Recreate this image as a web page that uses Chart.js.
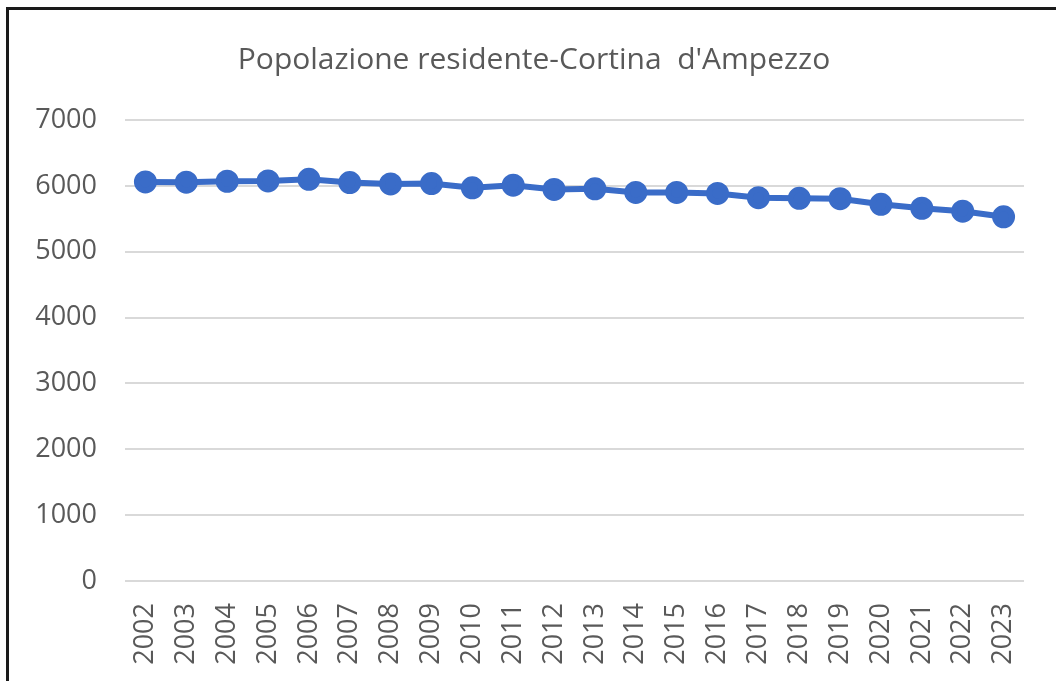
<!DOCTYPE html>
<html>
<head>
<meta charset="utf-8">
<script src="https://cdn.jsdelivr.net/npm/chart.js@4"></script>
<style>
  html, body { margin: 0; padding: 0; background: #fff; }
  #wrap { position: relative; width: 1056px; height: 681px; }
  #frame { position: absolute; left: 6px; top: 7px; right: 0; bottom: 0;
           border-left: 3px solid #1a1a1a; border-top: 3px solid #1a1a1a; pointer-events: none; }
</style>
</head>
<body>
<div id="wrap">
  <canvas id="chart" width="1056" height="681"></canvas>
  <div id="frame"></div>
</div>
<script>
// ── Dati ──────────────────────────────────────────────────────────────────────
const years = ['2002', '2003', '2004', '2005', '2006', '2007', '2008', '2009', '2010', '2011', '2012',
               '2013', '2014', '2015', '2016', '2017', '2018', '2019', '2020', '2021', '2022', '2023'];
const residents = [6060, 6055, 6070, 6075, 6100, 6050, 6030, 6035, 5970, 6010, 5945,
                   5955, 5900, 5900, 5885, 5820, 5810, 5805, 5720, 5660, 5615, 5530];
const yTicks = [0, 1000, 2000, 3000, 4000, 5000, 6000, 7000];
const chartTitle = "Popolazione residente-Cortina  d'Ampezzo";

const textColor = '#595959';
const lineColor = '#3a6cc8';
const fontFamily = '"Open Sans", "Noto Sans", sans-serif';

const ctx = document.getElementById('chart').getContext('2d');

new Chart(ctx, {
  type: 'line',
  data: {
    labels: years,
    datasets: [{
      data: residents,
      borderColor: lineColor,
      backgroundColor: lineColor,
      borderWidth: 6,
      pointRadius: 8.5,
      pointBackgroundColor: lineColor,
      pointBorderColor: lineColor,
      tension: 0,
      fill: false,
    }],
  },
  options: {
    responsive: false,
    animation: false,
    layout: { padding: { left: 12, right: 0, top: 0, bottom: 0 } },
    plugins: {
      legend: { display: false },
      tooltip: { enabled: false },
      title: {
        display: true,
        text: chartTitle,
        color: textColor,
        font: { family: fontFamily, size: 30, weight: 'normal' },
        padding: { top: 42, bottom: 42 },
      },
    },
    scales: {
      x: {
        offset: true,
        grid: { display: false },
        border: { display: false },
        ticks: {
          color: textColor,
          font: { family: fontFamily, size: 27 },
          minRotation: 90,
          maxRotation: 90,
          autoSkip: false,
          padding: 14,
        },
        afterFit: s => { s.height = 100; },
      },
      y: {
        min: 0,
        max: 7000,
        afterBuildTicks: s => { s.ticks = yTicks.map(v => ({ value: v })); },
        grid: { color: '#d9d9d9', lineWidth: 2, drawTicks: false },
        border: { display: false },
        ticks: {
          color: textColor,
          font: { family: fontFamily, size: 27 },
          padding: 28,
          callback: v => String(v),
        },
        afterFit: s => { s.width = 113; },
      },
      yRight: {
        position: 'right',
        grid: { display: false },
        border: { display: false },
        ticks: { display: false },
        afterFit: s => { s.width = 32; },
      },
    },
  },
});
</script>
</body>
</html>
